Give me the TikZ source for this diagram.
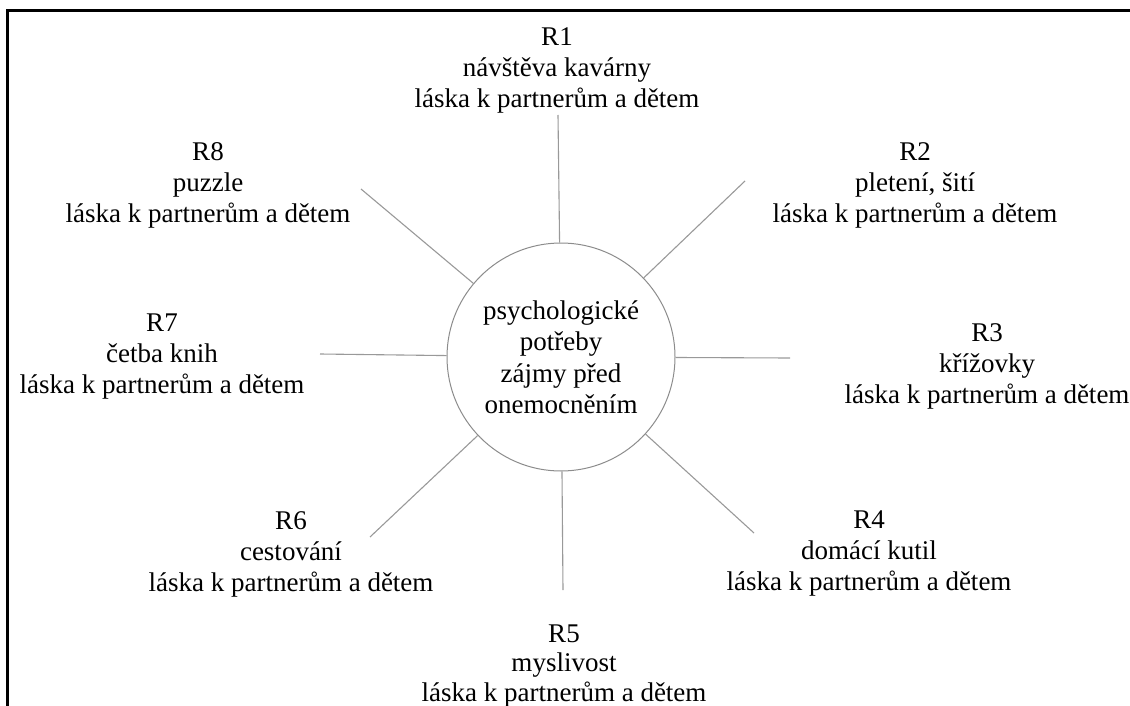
\documentclass[tikz,border=0pt]{standalone}
\usepackage{fontspec}
\setmainfont{Liberation Serif}
\begin{document}
\begin{tikzpicture}[x=1pt,y=-1pt,
  label/.style={align=center,inner sep=0pt,font=\fontsize{27}{31}\selectfont},
  hub/.style={circle,draw=black!45,line width=1pt,minimum size=228pt,inner sep=0pt,
    align=center,font=\fontsize{27}{31.5}\selectfont},
  spoke/.style={draw=black!40,line width=1.1pt},
  frame/.style={line width=3pt,black}]
\useasboundingbox (0,0) rectangle (1130,706);
% open frame: only the top and left edges
\draw[frame] (1130,11) -- (7,11) -- (7,706);
% central circle
\node[hub] (c) at (561,357) {psychologické\\potřeby\\zájmy před\\onemocněním};
% outer ends of the spokes
\coordinate (e1) at (558,115);
\coordinate (e2) at (745,181);
\coordinate (e3) at (790,358);
\coordinate (e4) at (754,533);
\coordinate (e5) at (563,590);
\coordinate (e6) at (370,537);
\coordinate (e7) at (320,354);
\coordinate (e8) at (361,189);
\foreach \i in {1,...,8} \draw[spoke] (e\i) -- (c);
% labels
\node[label] (r1) at (557,70) {R1\\návštěva kavárny\\láska k partnerům a dětem};
\node[label] (r2) at (915,185) {R2\\pletení, šití\\láska k partnerům a dětem};
\node[label] (r3) at (987,366) {R3\\křížovky\\láska k partnerům a dětem};
\node[label] (r4) at (869,553) {R4\\domácí kutil\\láska k partnerům a dětem};
\node[label,font=\fontsize{27}{29.5}\selectfont] (r5) at (564,666) {R5\\myslivost\\láska k partnerům a dětem};
\node[label] (r6) at (291,554) {R6\\cestování\\láska k partnerům a dětem};
\node[label] (r7) at (162,357) {R7\\četba knih\\láska k partnerům a dětem};
\node[label] (r8) at (208,185) {R8\\puzzle\\láska k partnerům a dětem};
\end{tikzpicture}
\end{document}
